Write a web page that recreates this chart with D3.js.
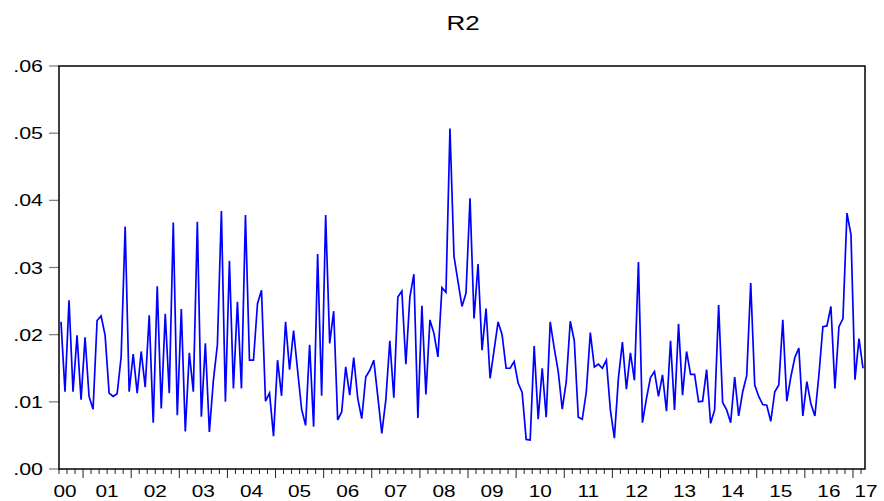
<!DOCTYPE html>
<html>
<head>
<meta charset="utf-8">
<script src="https://cdn.jsdelivr.net/npm/d3@7"></script>
<style>
    body { margin: 0; background: #fff; }
    svg text { font-family: "Liberation Sans", Arial, sans-serif; fill: #000; }
</style>
</head>
<body>
<svg id="chart" width="884" height="501"></svg>
<script>
// Monthly series, first observation 2000M07
const startYear = 2000;
const startMonth = 7;
const r2 = [
    0.0219, 0.0115, 0.0251, 0.0115, 0.0199, 0.0103, 0.0196, 0.0108, 0.0089, 0.0221,
    0.0228, 0.0199, 0.0113, 0.0108, 0.0112, 0.0167, 0.0361, 0.0115, 0.0171, 0.0113,
    0.0175, 0.0122, 0.0229, 0.0069, 0.0272, 0.0090, 0.0231, 0.0113, 0.0367, 0.0080,
    0.0238, 0.0056, 0.0173, 0.0115, 0.0368, 0.0078, 0.0187, 0.0055, 0.0132, 0.0185,
    0.0384, 0.0100, 0.0310, 0.0120, 0.0249, 0.0120, 0.0378, 0.0162, 0.0162, 0.0246,
    0.0266, 0.0101, 0.0113, 0.0049, 0.0162, 0.0109, 0.0219, 0.0148, 0.0206, 0.0147,
    0.0089, 0.0065, 0.0185, 0.0063, 0.0320, 0.0109, 0.0378, 0.0187, 0.0235, 0.0073,
    0.0085, 0.0152, 0.0110, 0.0166, 0.0105, 0.0075, 0.0137, 0.0147, 0.0162, 0.0108,
    0.0053, 0.0103, 0.0191, 0.0106, 0.0256, 0.0265, 0.0156, 0.0256, 0.0290, 0.0076,
    0.0243, 0.0111, 0.0222, 0.0202, 0.0167, 0.0270, 0.0263, 0.0507, 0.0317, 0.0279,
    0.0242, 0.0262, 0.0403, 0.0224, 0.0305, 0.0177, 0.0239, 0.0135, 0.0177, 0.0219,
    0.0200, 0.0150, 0.0150, 0.0160, 0.0128, 0.0114, 0.0044, 0.0043, 0.0183, 0.0074,
    0.0150, 0.0077, 0.0219, 0.0180, 0.0145, 0.0089, 0.0130, 0.0220, 0.0191, 0.0077,
    0.0074, 0.0115, 0.0203, 0.0152, 0.0156, 0.0150, 0.0162, 0.0088, 0.0046, 0.0135,
    0.0189, 0.0119, 0.0173, 0.0132, 0.0308, 0.0069, 0.0105, 0.0136, 0.0145, 0.0108,
    0.0140, 0.0086, 0.0191, 0.0088, 0.0216, 0.0110, 0.0175, 0.0141, 0.0141, 0.0100,
    0.0101, 0.0148, 0.0068, 0.0088, 0.0244, 0.0099, 0.0088, 0.0069, 0.0137, 0.0079,
    0.0115, 0.0139, 0.0277, 0.0125, 0.0108, 0.0096, 0.0095, 0.0071, 0.0115, 0.0125,
    0.0222, 0.0101, 0.0137, 0.0166, 0.0180, 0.0079, 0.0130, 0.0097, 0.0079, 0.0140,
    0.0212, 0.0213, 0.0242, 0.0120, 0.0212, 0.0224, 0.0381, 0.0349, 0.0133, 0.0194,
    0.0150
];
const yearLabels = ['00', '01', '02', '03', '04', '05', '06', '07', '08', '09',
    '10', '11', '12', '13', '14', '15', '16', '17'];
const yTicks = [0, 0.01, 0.02, 0.03, 0.04, 0.05, 0.06];
const yTickLabels = ['.00', '.01', '.02', '.03', '.04', '.05', '.06'];
const title = 'R2';

let frame = { left: 59, right: 865, top: 66, bottom: 469 };
let stretch = 1.3; // text in the picture is wider than plain Arial

let svg = d3.select('#chart');

let x = d3.scaleLinear().domain([0, r2.length - 1]).range([61, 863]);
let y = d3.scaleLinear().domain([0, 0.06]).range([frame.bottom, frame.top]);

// title
svg.append('text')
    .attr('transform', `translate(${(frame.left + frame.right) / 2 + 1},30) scale(${stretch},1)`)
    .attr('text-anchor', 'middle')
    .style('font-size', '20px')
    .text(title);

// y ticks and labels
svg.selectAll('.ytick')
    .data(yTicks)
    .enter().append('line')
    .attr('class', 'ytick')
    .attr('x1', frame.left - 10).attr('x2', frame.left)
    .attr('y1', d => y(d)).attr('y2', d => y(d))
    .attr('stroke', '#777').attr('stroke-width', 1.2);

svg.selectAll('.ylabel')
    .data(yTicks)
    .enter().append('text')
    .attr('class', 'ylabel')
    .attr('transform', d => `translate(43,${y(d) + 6}) scale(${stretch},1)`)
    .attr('text-anchor', 'end')
    .style('font-size', '16.5px')
    .text((d, i) => yTickLabels[i]);

// x ticks: every second month, long ones at January
let monthTicks = [];
for (let i = 0; i < r2.length; i++) {
    let month = (startMonth - 1 + i) % 12 + 1;
    if (month % 2 === 1) monthTicks.push({ i, major: month === 1 });
}
svg.selectAll('.xtick')
    .data(monthTicks)
    .enter().append('line')
    .attr('class', 'xtick')
    .attr('x1', d => Math.max(frame.left, x(d.i - 0.5)))
    .attr('x2', d => Math.max(frame.left, x(d.i - 0.5)))
    .attr('y1', frame.bottom)
    .attr('y2', d => frame.bottom + (d.major ? 9 : 5))
    .attr('stroke', '#222').attr('stroke-width', 1);

// year labels centred on the part of the year that is shown
let yearData = yearLabels.map((label, k) => {
    let first = k * 12 - (startMonth - 1);
    let a = Math.max(frame.left, x(first - 0.5));
    let b = Math.min(frame.right, x(first + 11.5));
    let cx = (a + b) / 2;
    if (k === 0) cx -= 6;
    if (k === yearLabels.length - 1) cx += 7;
    return { label, cx };
});
svg.selectAll('.xlabel')
    .data(yearData)
    .enter().append('text')
    .attr('class', 'xlabel')
    .attr('transform', d => `translate(${d.cx},497) scale(${stretch},1)`)
    .attr('text-anchor', 'middle')
    .style('font-size', '16px')
    .text(d => d.label);

// series
let line = d3.line()
    .x((d, i) => x(i))
    .y(d => y(d));

svg.append('path')
    .datum(r2)
    .attr('d', line)
    .attr('fill', 'none')
    .attr('stroke', '#0000ff')
    .attr('stroke-width', 1.7)
    .attr('stroke-linejoin', 'miter');

// frame
svg.append('rect')
    .attr('x', frame.left).attr('y', frame.top)
    .attr('width', frame.right - frame.left)
    .attr('height', frame.bottom - frame.top)
    .attr('fill', 'none')
    .attr('stroke', '#000').attr('stroke-width', 1.5);
</script>
</body>
</html>
